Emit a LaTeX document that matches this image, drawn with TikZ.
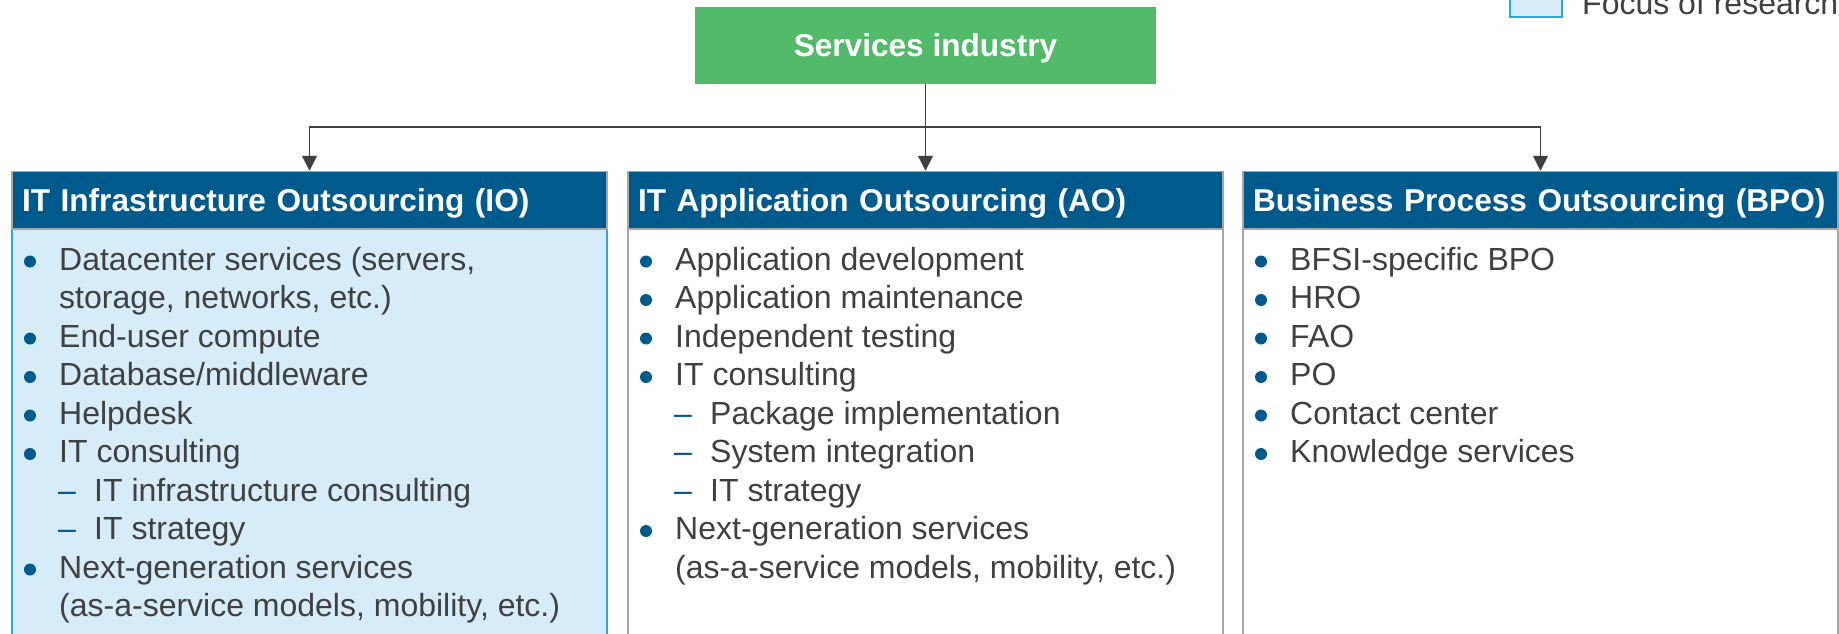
\documentclass[tikz,border=0pt]{standalone}
\usepackage{fontspec}
\setmainfont{Liberation Sans}
\usetikzlibrary{arrows.meta}
\definecolor{hdrblue}{HTML}{005B8C}
\definecolor{greenc}{HTML}{52BA69}
\definecolor{greyb}{HTML}{A6A6A6}
\definecolor{lightb}{HTML}{D6ECF8}
\definecolor{brightb}{HTML}{29ABE2}
\definecolor{txtgray}{HTML}{404040}
\newcommand\bodyfont{\fontsize{32}{38.5}\selectfont}
\newcommand\hdrfont{\fontsize{31.6}{38}\selectfont\bfseries}
\tikzset{
  greenbox/.style={fill=greenc, draw=none, minimum width=461pt, minimum height=77pt, inner sep=0pt,
    text height=23pt, text depth=0pt, text=white, font=\hdrfont},
  hdrbox/.style={fill=hdrblue, draw=greyb, line width=1.5pt, minimum height=57.5pt, inner xsep=10pt, inner ysep=0pt,
    text width=575pt, align=left, text height=23pt, text depth=0pt, text=white, font=\hdrfont},
  bodybox/.style={fill=white, draw=greyb, line width=1.5pt, minimum width=595pt, minimum height=480pt, inner sep=0pt},
  focusbox/.style={bodybox, fill=lightb, draw=brightb},
  legbox/.style={fill=lightb, draw=brightb, line width=1.5pt, minimum width=52pt, minimum height=52pt, inner sep=0pt},
  txt/.style={anchor=base west, inner sep=0pt, font=\bodyfont, text=txtgray},
  conn/.style={draw=txtgray, line width=1.3pt},
  tip/.style={-{Triangle[length=15pt,width=15pt]}}
}
\newcommand\bitem[4]{%
  \fill[hdrblue] (#2+18,#3-8.5) circle (6pt);
  \node[txt] (#1) at (#2+47,#3) {#4};}
\newcommand\citem[4]{\node[txt] (#1) at (#2+47,#3) {#4};}
\newcommand\ditem[4]{%
  \node[txt, text=hdrblue] (#1d) at (#2+46,#3) {–};
  \node[txt] (#1) at (#2+82,#3) {#4};}
\begin{document}
\begin{tikzpicture}[x=1pt,y=-1pt]
\useasboundingbox (0,0) rectangle (1839,633);
\clip (0,0) rectangle (1839,633);

% legend
\node[legbox] (lg) at (1536,-9) {};
\node[txt] (lgt) at (1582,14) {Focus of research};

% top node
\node[greenbox] (si) at (925.5,45) {Services industry};

% bodies
\node[focusbox] (b1) at (309.5,469) {};
\node[bodybox] (b2) at (925.5,469) {};
\node[bodybox] (b3) at (1540.5,469) {};

% headers
\node[hdrbox] (h1) at (309.5,200.25) {\mbox{IT Infrastructure Outsourcing (IO)}};
\node[hdrbox] (h2) at (925.5,200.25) {\mbox{IT Application Outsourcing (AO)}};
\node[hdrbox] (h3) at (1540.5,200.25) {\mbox{Business Process Outsourcing (BPO)}};

% connectors
\coordinate (j) at (925.5,127);
\draw[conn] (si.south) -- (j);
\draw[conn,tip] (j) -| (h1.north);
\draw[conn,tip] (j) -- (h2.north);
\draw[conn,tip] (j) -| (h3.north);

% left list
\bitem{L1}{12}{270}{Datacenter services (servers,}
\citem{L2}{12}{308.5}{storage, networks, etc.)}
\bitem{L3}{12}{347}{End-user compute}
\bitem{L4}{12}{385.5}{Database/middleware}
\bitem{L5}{12}{424}{Helpdesk}
\bitem{L6}{12}{462.5}{IT consulting}
\ditem{L7}{12}{501}{IT infrastructure consulting}
\ditem{L8}{12}{539.5}{IT strategy}
\bitem{L9}{12}{578}{Next-generation services}
\citem{L10}{12}{616.5}{(as-a-service models, mobility, etc.)}

% center list
\bitem{C1}{628}{270}{Application development}
\bitem{C2}{628}{308.5}{Application maintenance}
\bitem{C3}{628}{347}{Independent testing}
\bitem{C4}{628}{385.5}{IT consulting}
\ditem{C5}{628}{424}{Package implementation}
\ditem{C6}{628}{462.5}{System integration}
\ditem{C7}{628}{501}{IT strategy}
\bitem{C8}{628}{539.5}{Next-generation services}
\citem{C9}{628}{578}{(as-a-service models, mobility, etc.)}

% right list
\bitem{R1}{1243}{270}{BFSI-specific BPO}
\bitem{R2}{1243}{308.5}{HRO}
\bitem{R3}{1243}{347}{FAO}
\bitem{R4}{1243}{385.5}{PO}
\bitem{R5}{1243}{424}{Contact center}
\bitem{R6}{1243}{462.5}{Knowledge services}
\end{tikzpicture}
\end{document}
